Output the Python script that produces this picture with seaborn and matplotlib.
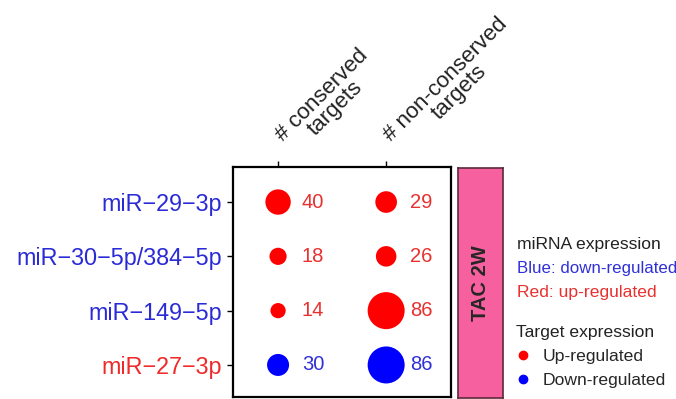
import pandas as pd
import matplotlib
matplotlib.use("Agg")
import matplotlib.pyplot as plt
import seaborn as sns
from matplotlib.lines import Line2D

# Data
mirnas = ["miR\u221229\u22123p", "miR\u221230\u22125p/384\u22125p", "miR\u2212149\u22125p", "miR\u221227\u22123p"]
mirna_regulation = ["down", "down", "down", "up"]
column_labels = ["# conserved\ntargets", "# non-conserved\ntargets"]
conserved = [40, 18, 14, 30]
non_conserved = [29, 26, 86, 86]
target_regulation = ["Up", "Up", "Up", "Down"]

sns.set_style("ticks")
plt.rcParams["font.family"] = ["Liberation Sans", "DejaVu Sans"]

dot_colors = {"Up": "#ff0000", "Down": "#0000ff"}
text_colors = {"Up": "#e8302f", "Down": "#3030d8"}
label_colors = {"up": "#ee2a2a", "down": "#2a2ad6"}

df = pd.DataFrame({
    "row": list(range(len(mirnas))) * 2,
    "col": [0] * len(mirnas) + [1] * len(mirnas),
    "count": conserved + non_conserved,
    "target": target_regulation * 2,
})

fig = plt.figure(figsize=(6.76, 3.99), dpi=100)
ax = fig.add_axes([233 / 676, 2 / 399, 218 / 676, 230 / 399])

sns.scatterplot(data=df, x="col", y="row", hue="target", size="count",
                palette=dot_colors, sizes=(120, 710), size_norm=(14, 86),
                linewidth=0, legend=False, ax=ax)

for _, r in df.iterrows():
    ax.text(r["col"] + 0.22, r["row"], str(r["count"]), color=text_colors[r["target"]],
            fontsize=14.5, ha="left", va="center")

ax.set_xlim(-0.417, 1.60)
ax.set_ylim(3.59, -0.645)
ax.set_xlabel("")
ax.set_ylabel("")

# column labels, rotated above the top ticks
ax.xaxis.tick_top()
ax.set_xticks([0, 1])
ax.tick_params(axis="x", labeltop=False)
for i, lab in enumerate(column_labels):
    ax.annotate(lab, xy=(i, 1), xycoords=ax.get_xaxis_transform(),
                xytext=(14, 7.5), textcoords="offset points",
                rotation=45, rotation_mode="anchor", ha="left", va="baseline",
                multialignment="center", linespacing=0.88, fontsize=16,
                color="#222222")

ax.set_yticks(range(len(mirnas)))
ax.set_yticklabels(mirnas, fontsize=16.8)
for lbl, reg in zip(ax.get_yticklabels(), mirna_regulation):
    lbl.set_color(label_colors[reg])

ax.tick_params(axis="both", length=4, width=1, color="black", pad=4)
for s in ax.spines.values():
    s.set_visible(True)
    s.set_linewidth(1.6)
    s.set_color("black")

# condition strip
strip = fig.add_axes([458 / 676, 1 / 399, 45 / 676, 230 / 399])
strip.set_facecolor("#f7609e")
strip.set_xticks([])
strip.set_yticks([])
for s in strip.spines.values():
    s.set_visible(True)
    s.set_linewidth(1.2)
    s.set_color("#5a2a3a")
strip.text(0.5, 0.5, "TAC 2W", rotation=90, fontweight="bold", fontsize=14.5,
           ha="center", va="center", transform=strip.transAxes)

# miRNA expression key
fig.text(517 / 676, 1 - 245 / 399, "miRNA expression", fontsize=12.6, va="center", color="#222222")
fig.text(517 / 676, 1 - 268 / 399, "Blue: down-regulated", fontsize=12.2, va="center", color="#3030d8")
fig.text(517 / 676, 1 - 292 / 399, "Red: up-regulated", fontsize=12.6, va="center", color="#e8302f")

# target expression legend
handles = [Line2D([], [], marker="o", ls="", color=dot_colors[k], markersize=6,
                  label=f"{k}-regulated") for k in ["Up", "Down"]]
leg = fig.legend(handles=handles, title="Target expression", loc="upper left",
                 bbox_to_anchor=(516 / 676, 1 - 325 / 399), frameon=False,
                 fontsize=12.6, title_fontsize=12.6, alignment="left",
                 borderpad=0, borderaxespad=0, handlelength=0.8,
                 handletextpad=0.7, labelspacing=0.5)
leg.get_title().set_color("#222222")

fig.savefig("out.png", dpi=100)
